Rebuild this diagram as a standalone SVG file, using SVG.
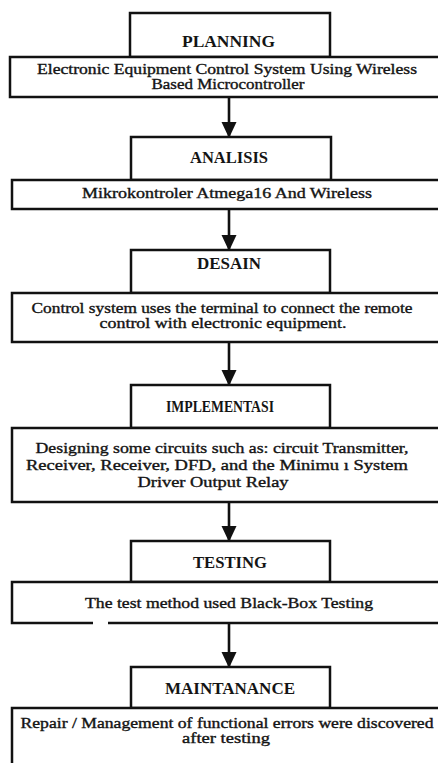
<svg xmlns="http://www.w3.org/2000/svg" width="438" height="763" viewBox="0 0 438 763">
<style>
.box{fill:#fff;stroke:#111;stroke-width:2.5}
.ln{stroke:#111;stroke-width:2.5}
.t{font-family:"Liberation Serif","Times New Roman","DejaVu Serif",serif;fill:#141414;text-anchor:middle}
.h{font-size:16px;font-weight:bold}
.b{font-size:14px;font-weight:normal;stroke:#141414;stroke-width:0.35}
.con{stroke:#111;stroke-width:2.6;fill:none}
</style>
<defs>
<marker id="ah" markerWidth="16" markerHeight="16" refX="15" refY="8" orient="auto" markerUnits="userSpaceOnUse" viewBox="0 0 16 16">
<path d="M0,0.5 L16,8 L0,15.5 Z" fill="#111"/>
</marker>
</defs>
<rect width="438" height="763" fill="#fff"/>
<g id="connectors">
<line class="con" x1="229" y1="97" x2="229" y2="137" marker-end="url(#ah)"/>
<line class="con" x1="229" y1="209" x2="229" y2="250" marker-end="url(#ah)"/>
<line class="con" x1="229" y1="342" x2="229" y2="385" marker-end="url(#ah)"/>
<line class="con" x1="229" y1="502" x2="229" y2="541" marker-end="url(#ah)"/>
<line class="con" x1="229" y1="623" x2="229" y2="667" marker-end="url(#ah)"/>
</g>
<g id="planning">
<rect class="box" x="130" y="13" width="200" height="44"/>
<text class="t h" x="228.5" y="47" textLength="93" lengthAdjust="spacingAndGlyphs">PLANNING</text>
</g>
<g id="planning-desc">
<rect class="box" x="10" y="57" width="440" height="40"/>
<text class="t b" x="227" y="74" textLength="380" lengthAdjust="spacingAndGlyphs">Electronic Equipment Control System Using Wireless</text>
<text class="t b" x="228" y="89" textLength="153" lengthAdjust="spacingAndGlyphs">Based Microcontroller</text>
</g>
<g id="analisis">
<rect class="box" x="131" y="137" width="200" height="43"/>
<text class="t h" x="229" y="163" textLength="78" lengthAdjust="spacingAndGlyphs">ANALISIS</text>
</g>
<g id="analisis-desc">
<rect class="box" x="12" y="180" width="440" height="29"/>
<text class="t b" x="227" y="198" textLength="290" lengthAdjust="spacingAndGlyphs">Mikrokontroler Atmega16 And  Wireless</text>
</g>
<g id="desain">
<rect class="box" x="131" y="250" width="199" height="43"/>
<text class="t h" x="229" y="269" textLength="64" lengthAdjust="spacingAndGlyphs">DESAIN</text>
</g>
<g id="desain-desc">
<rect class="box" x="12" y="293" width="440" height="49"/>
<text class="t b" x="222" y="313" textLength="381" lengthAdjust="spacingAndGlyphs">Control system uses the terminal to connect the remote</text>
<text class="t b" x="223" y="328" textLength="247" lengthAdjust="spacingAndGlyphs">control with electronic equipment.</text>
</g>
<g id="implementasi">
<rect class="box" x="131" y="385" width="199" height="43"/>
<text class="t h" x="220" y="412" textLength="108" lengthAdjust="spacingAndGlyphs">IMPLEMENTASI</text>
</g>
<g id="implementasi-desc">
<rect class="box" x="12" y="428" width="440" height="74"/>
<text class="t b" x="222" y="453" textLength="373" lengthAdjust="spacingAndGlyphs">Designing some circuits such as: circuit Transmitter,</text>
<text class="t b" x="217" y="470" textLength="382" lengthAdjust="spacingAndGlyphs">Receiver, Receiver, DFD, and the Minimu ı System</text>
<text class="t b" x="213" y="487" textLength="151" lengthAdjust="spacingAndGlyphs">Driver Output Relay</text>
</g>
<g id="testing">
<rect class="box" x="131" y="541" width="199" height="41"/>
<text class="t h" x="230" y="568" textLength="74" lengthAdjust="spacingAndGlyphs">TESTING</text>
</g>
<g id="testing-desc">
<path class="ln" d="M93,623 L12,623 L12,582 L450,582 L450,623 L108,623" fill="#fff"/>
<text class="t b" x="229" y="608" textLength="288" lengthAdjust="spacingAndGlyphs">The test method used  Black-Box Testing</text>
</g>
<g id="maintanance">
<rect class="box" x="131" y="667" width="199" height="41"/>
<text class="t h" x="230" y="694" textLength="130" lengthAdjust="spacingAndGlyphs">MAINTANANCE</text>
</g>
<g id="maintanance-desc">
<rect class="box" x="12" y="708" width="440" height="70"/>
<text class="t b" x="227" y="728" textLength="413" lengthAdjust="spacingAndGlyphs">Repair / Management of functional errors were discovered</text>
<text class="t b" x="226" y="743" textLength="88" lengthAdjust="spacingAndGlyphs">after testing</text>
</g>
</svg>
